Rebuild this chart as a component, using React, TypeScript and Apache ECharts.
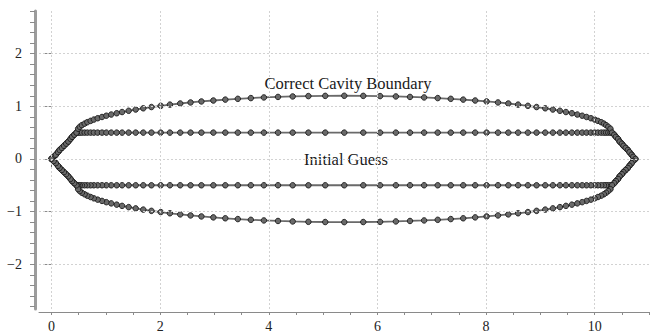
import React, { useEffect, useRef } from "react";
import * as echarts from "echarts";

// Axis tick labels
const X_LABELS = [0, 2, 4, 6, 8, 10];
const Y_LABELS = [-2, -1, 0, 1, 2];
const X_MINOR = [0, 0.5, 1, 1.5, 2, 2.5, 3, 3.5, 4, 4.5, 5, 5.5, 6, 6.5, 7, 7.5, 8, 8.5, 9, 9.5, 10, 10.5, 11];
const Y_MINOR = [-2.8, -2.6, -2.4, -2.2, -2, -1.8, -1.6, -1.4, -1.2, -1, -0.8, -0.6, -0.4, -0.2, 0, 0.2, 0.4, 0.6, 0.8, 1, 1.2, 1.4, 1.6, 1.8, 2, 2.2, 2.4, 2.6, 2.8];

// Nose cone (upper half), from the tip to just before the corner
const NOSE_X = [0, 0.04, 0.08, 0.12, 0.15, 0.19, 0.23, 0.27, 0.31, 0.35, 0.38, 0.42];
const NOSE_Y = [0, 0.04, 0.08, 0.13, 0.17, 0.21, 0.25, 0.29, 0.33, 0.38, 0.42, 0.46];

// Body nodes (shared x positions of both curves)
const ARC_X = [
  0.46, 0.49, 0.52, 0.56, 0.61, 0.66, 0.72, 0.78, 0.85, 0.93, 1.01, 1.1, 1.2, 1.3, 1.42, 1.55,
  1.69, 1.84, 2.01, 2.18, 2.37, 2.56, 2.76, 2.98, 3.2, 3.43, 3.67, 3.91, 4.17, 4.44, 4.73, 5.04,
  5.39,
  5.74, 6.05, 6.34, 6.6, 6.86, 7.11, 7.35, 7.58, 7.8, 8.01, 8.22, 8.41, 8.59, 8.77, 8.93, 9.09,
  9.23, 9.36, 9.47, 9.58, 9.68, 9.77, 9.85, 9.93, 10.0, 10.06, 10.12, 10.17, 10.21, 10.25, 10.29, 10.32,
];
// Correct cavity boundary (upper half)
const OUTER_Y = [
  0.5, 0.574, 0.611, 0.642, 0.671, 0.698, 0.723, 0.748, 0.773, 0.797, 0.821, 0.844, 0.868, 0.891,
  0.915, 0.939, 0.962, 0.986, 1.009, 1.032, 1.053, 1.073, 1.092, 1.11, 1.127, 1.142, 1.156, 1.168,
  1.178, 1.187, 1.194, 1.198,
  1.2,
  1.198, 1.194, 1.187, 1.178, 1.168, 1.156, 1.142, 1.127, 1.11, 1.092, 1.073, 1.053, 1.032, 1.009,
  0.986, 0.962, 0.939, 0.915, 0.891, 0.868, 0.844, 0.821, 0.797, 0.773, 0.748, 0.723, 0.698, 0.671,
  0.642, 0.611, 0.574, 0.5,
];
// Initial guess (upper half) – constant radius
const INNER_RADIUS = 0.5;

// Tail (upper half), from just after the corner to the tip
const TAIL_X = [10.36, 10.39, 10.43, 10.46, 10.5, 10.53, 10.57, 10.61, 10.64, 10.68, 10.71, 10.75];
const TAIL_Y = [0.46, 0.42, 0.38, 0.33, 0.29, 0.25, 0.21, 0.17, 0.13, 0.08, 0.04, 0];

function closedLoop(arcY: number[]): number[][] {
  const upper: number[][] = [];
  NOSE_X.forEach((x, i) => upper.push([x, NOSE_Y[i]]));
  ARC_X.forEach((x, i) => upper.push([x, arcY[i]]));
  TAIL_X.forEach((x, i) => upper.push([x, TAIL_Y[i]]));
  const lower = upper
    .slice(0, -1)
    .reverse()
    .map(([x, y]) => [x, -y]);
  return [...upper, ...lower];
}

const FONT = "'Liberation Serif', 'Times New Roman', serif";

export default function App() {
  const ref = useRef<HTMLDivElement>(null);
  useEffect(() => {
    if (!ref.current) return;
    const chart = echarts.init(ref.current, undefined, { renderer: "svg" });
    const outer = closedLoop(OUTER_Y);
    const inner = closedLoop(ARC_X.map(() => INNER_RADIUS));
    const minus = (v: number) => (v < 0 ? "\u2212" + Math.abs(v) : String(v));
    const curveStyle = {
      type: "line" as const,
      symbol: "circle",
      symbolSize: 5.5,
      showSymbol: true,
      lineStyle: { color: "#6a6a6a", width: 1.8 },
      itemStyle: { color: "#6a6a6a", borderColor: "#1a1a1a", borderWidth: 0.9 },
      emphasis: { disabled: true },
      silent: true,
    };
    chart.setOption({
      animation: false,
      backgroundColor: "#ffffff",
      grid: { left: 39, right: 1, top: 11, bottom: 20, containLabel: false },
      xAxis: [
        {
          type: "value",
          min: -0.23,
          max: 11.0,
          offset: 3,
          axisLine: { show: true, onZero: false, lineStyle: { color: "#8a8a8a", width: 1 } },
          axisTick: { show: true, customValues: X_MINOR, length: 3, lineStyle: { color: "#8a8a8a" } },
          axisLabel: {
            customValues: X_LABELS,
            margin: 7,
            fontFamily: FONT,
            fontSize: 14,
            color: "#222",
          },
          splitLine: { show: false },
        },
        {
          type: "value",
          position: "bottom",
          min: -0.23,
          max: 11.0,
          offset: 3,
          axisLine: { show: false },
          axisTick: { show: true, customValues: [0], length: 8, lineStyle: { color: "#666" } },
          axisLabel: { show: false },
          splitLine: { show: false },
        },
      ],
      yAxis: [
        {
          type: "value",
          min: -2.85,
          max: 2.81,
          offset: 4,
          axisLine: { show: true, onZero: false, lineStyle: { color: "#9c9c9c", width: 3 } },
          axisTick: { show: true, customValues: Y_MINOR, length: 5, lineStyle: { color: "#8a8a8a" } },
          axisLabel: {
            customValues: Y_LABELS,
            formatter: minus,
            margin: 13,
            fontFamily: FONT,
            fontSize: 14,
            color: "#222",
          },
          splitLine: { show: false },
        },
        {
          type: "value",
          position: "left",
          min: -2.85,
          max: 2.81,
          offset: 4,
          axisLine: { show: false },
          axisTick: { show: true, customValues: Y_LABELS, length: 7, lineStyle: { color: "#8a8a8a" } },
          axisLabel: { show: false },
          splitLine: { show: false },
        },
      ],
      graphic: [
        {
          type: "text",
          x: 348,
          y: 83,
          style: {
            text: "Correct Cavity Boundary",
            font: `16.5px ${FONT}`,
            fill: "#1a1a1a",
            align: "center",
            verticalAlign: "middle",
          },
        },
        {
          type: "text",
          x: 346,
          y: 159,
          style: {
            text: "Initial Guess",
            font: `16.5px ${FONT}`,
            fill: "#1a1a1a",
            align: "center",
            verticalAlign: "middle",
          },
        },
      ],
      series: [
        {
          type: "line",
          data: [],
          silent: true,
          markLine: {
            silent: true,
            symbol: ["none", "none"],
            label: { show: false },
            lineStyle: { type: [2, 2], color: "#d2d2d2", width: 1 },
            emphasis: { disabled: true },
            data: [
              ...X_LABELS.map((v) => ({ xAxis: v })),
              ...Y_LABELS.map((v) => ({ yAxis: v })),
            ],
          },
        },
        { ...curveStyle, name: "Initial Guess", data: inner },
        { ...curveStyle, name: "Correct Cavity Boundary", data: outer },
      ],
    });
    return () => chart.dispose();
  }, []);
  return (
    <div
      ref={ref}
      style={{ position: "fixed", left: 0, top: 0, width: 650, height: 333, background: "#fff" }}
    />
  );
}
